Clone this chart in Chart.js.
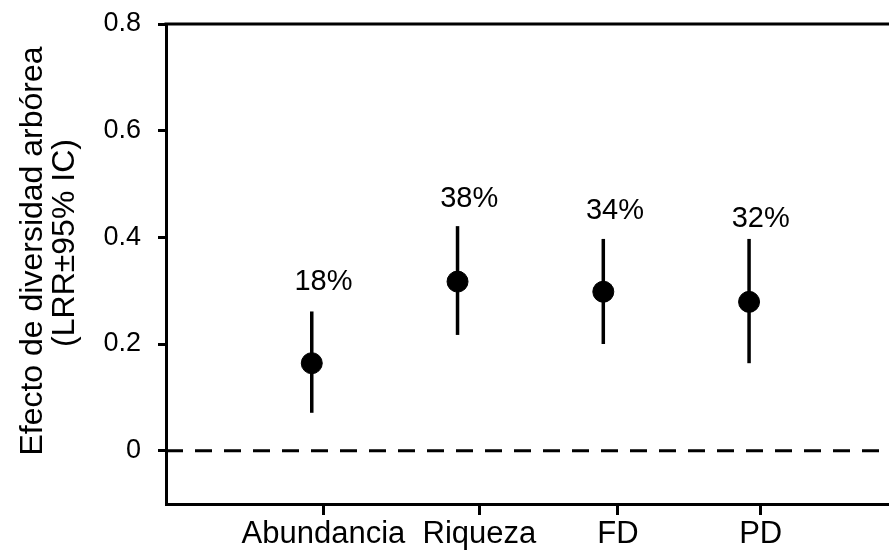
<!DOCTYPE html>
<html lang="es">
<head>
    <meta charset="UTF-8">
    <title>Efecto de diversidad arbórea</title>
    <script src="https://cdn.jsdelivr.net/npm/chart.js"></script>
    <style>
        body { margin: 0; background: #fff; overflow: hidden; }
        #wrap { width: 889px; height: 554px; }
    </style>
</head>
<body>
    <div id="wrap">
        <canvas id="lrrChart" width="889" height="554"></canvas>
    </div>

    <script>
        // datos
        const categories = ['Abundancia', 'Riqueza', 'FD', 'PD'];
        const lrr = [0.164, 0.317, 0.298, 0.279];
        const ciLow = [0.071, 0.217, 0.200, 0.164];
        const ciHigh = [0.261, 0.421, 0.397, 0.397];
        const pctLabels = ['18%', '38%', '34%', '32%'];
        const pctLabelY = [0.317, 0.472, 0.450, 0.435];
        const yTicks = [0, 0.2, 0.4, 0.6, 0.8];
        const xTicks = [1, 2.07, 3.02, 4];   // marcas del eje x, no del todo regulares en el original

        const FONT = 'Liberation Sans, Arial, sans-serif';
        const dodge = -0.08;   // puntos un poco a la izquierda de la marca del eje

        const points = lrr.map((v, i) => ({ x: i + 1 + dodge, y: v }));

        // barras de error, línea del cero, borde superior, etiquetas y título
        const extras = {
            id: 'extras',
            beforeDatasetsDraw(chart) {
                const { ctx, chartArea, scales: { x, y } } = chart;
                ctx.save();
                ctx.strokeStyle = '#000';

                // línea discontinua en 0
                ctx.lineWidth = 3;
                ctx.setLineDash([17, 12]);
                const y0 = y.getPixelForValue(0);
                ctx.beginPath();
                ctx.moveTo(chartArea.left, y0);
                ctx.lineTo(chartArea.right, y0);
                ctx.stroke();
                ctx.setLineDash([]);

                // borde superior
                ctx.beginPath();
                ctx.moveTo(chartArea.left - 1.5, chartArea.top);
                ctx.lineTo(chartArea.right, chartArea.top);
                ctx.stroke();

                // intervalos de confianza
                ctx.lineWidth = 3.5;
                points.forEach((p, i) => {
                    const px = x.getPixelForValue(p.x);
                    ctx.beginPath();
                    ctx.moveTo(px, y.getPixelForValue(ciLow[i]));
                    ctx.lineTo(px, y.getPixelForValue(ciHigh[i]));
                    ctx.stroke();
                });
                ctx.restore();
            },
            afterDraw(chart) {
                const { ctx, scales: { x, y } } = chart;
                ctx.save();
                ctx.fillStyle = '#000';
                ctx.font = '29px ' + FONT;
                ctx.textAlign = 'center';
                ctx.textBaseline = 'middle';
                pctLabels.forEach((t, i) => {
                    ctx.fillText(t, x.getPixelForValue(i + 1), y.getPixelForValue(pctLabelY[i]));
                });

                // título del eje y en dos líneas
                ctx.font = '32px ' + FONT;
                ctx.textBaseline = 'alphabetic';
                ctx.save();
                ctx.translate(42, 251);
                ctx.rotate(-Math.PI / 2);
                ctx.fillText('Efecto de diversidad arbórea', 0, 0);
                ctx.restore();
                ctx.save();
                ctx.translate(74, 243);
                ctx.rotate(-Math.PI / 2);
                ctx.fillText('(LRR±95% IC)', 0, 0);
                ctx.restore();
                ctx.restore();
            }
        };

        const config = {
            type: 'scatter',
            data: {
                datasets: [{
                    label: 'LRR',
                    data: points,
                    backgroundColor: '#000',
                    borderColor: '#000',
                    pointRadius: 10.5,
                    pointHoverRadius: 10.5
                }]
            },
            options: {
                responsive: false,
                animation: false,
                layout: {
                    autoPadding: false,
                    padding: { top: 24, right: 0, bottom: 0, left: 0 }
                },
                plugins: {
                    legend: { display: false },
                    tooltip: { enabled: false }
                },
                scales: {
                    x: {
                        type: 'linear',
                        min: -0.08,
                        max: 4.88,
                        afterBuildTicks: s => { s.ticks = xTicks.map(v => ({ value: v })); },
                        afterFit: s => {
                            s.height = 50;
                            s.paddingLeft = 0;
                            s.paddingRight = 0;
                        },
                        border: { display: true, color: '#000', width: 3 },
                        grid: {
                            drawOnChartArea: false,
                            drawTicks: true,
                            tickLength: 11,
                            color: '#000',
                            lineWidth: 3
                        },
                        ticks: {
                            color: '#000',
                            font: { family: FONT, size: 31 },
                            padding: 1,
                            maxRotation: 0,
                            autoSkip: false,
                            callback: (v, i) => categories[i]
                        }
                    },
                    y: {
                        min: -0.1,
                        max: 0.8,
                        afterBuildTicks: s => { s.ticks = yTicks.map(v => ({ value: v })); },
                        afterFit: s => {
                            s.width = 166;
                            s.paddingTop = 0;
                            s.paddingBottom = 0;
                        },
                        border: { display: true, color: '#000', width: 3 },
                        grid: {
                            drawOnChartArea: false,
                            drawTicks: true,
                            tickLength: 8,
                            color: '#000',
                            lineWidth: 3
                        },
                        ticks: {
                            color: '#000',
                            font: { family: FONT, size: 27 },
                            padding: 17,
                            callback: v => v === 0 ? '0' : v.toFixed(1)
                        }
                    }
                }
            },
            plugins: [extras]
        };

        new Chart(document.getElementById('lrrChart'), config);
    </script>
</body>
</html>
